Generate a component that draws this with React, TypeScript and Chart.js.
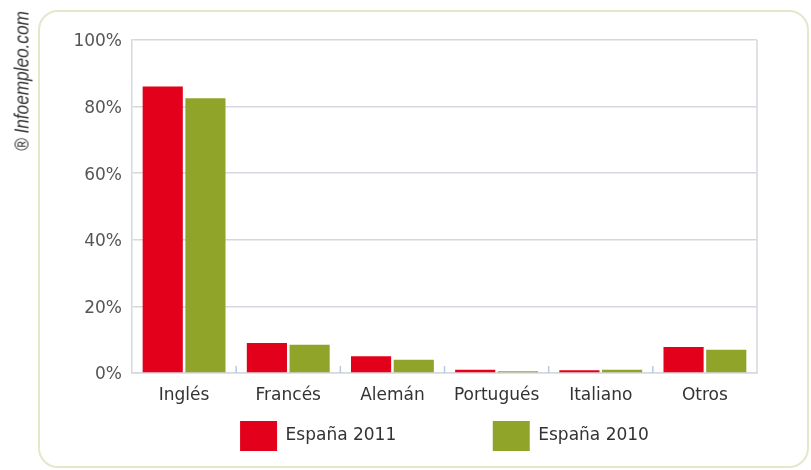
import React, { useEffect, useRef } from "react";
import { Chart, registerables } from "chart.js";

Chart.register(...registerables);

const categories = ["Inglés", "Francés", "Alemán", "Portugués", "Italiano", "Otros"];
const series2011 = [86, 9, 5, 1.0, 0.8, 7.8];
const series2010 = [82.5, 8.5, 4, 0.5, 1.0, 7];
const seriesNames = ["España 2011", "España 2010"];
const yTicks = [0, 20, 40, 60, 80, 100];

const RED = "#e2001a";
const GREEN = "#90a42a";
const GRID = "#d6d7df";
const TICKBLUE = "#b9c9e2";
const FONT = "'DejaVu Sans', 'Liberation Sans', sans-serif";

const extrasPlugin = {
  id: "extras",
  afterDatasetsDraw(chart: any) {
    const { ctx, chartArea, scales } = chart;
    const x = scales.x;
    ctx.save();
    ctx.strokeStyle = GRID;
    ctx.lineWidth = 1.5;
    ctx.beginPath();
    ctx.moveTo(chartArea.right, chartArea.top);
    ctx.lineTo(chartArea.right, chartArea.bottom);
    ctx.stroke();
    ctx.strokeStyle = TICKBLUE;
    ctx.lineWidth = 1.5;
    for (let i = 0; i < categories.length - 1; i++) {
      const bx = (x.getPixelForTick(i) + x.getPixelForTick(i + 1)) / 2;
      ctx.beginPath();
      ctx.moveTo(bx, chartArea.bottom);
      ctx.lineTo(bx, chartArea.bottom - 7);
      ctx.stroke();
    }
    ctx.restore();
  },
};

export default function App() {
  const ref = useRef<HTMLCanvasElement | null>(null);

  useEffect(() => {
    if (!ref.current) return;
    const chart = new Chart(ref.current, {
      type: "bar",
      data: {
        labels: categories,
        datasets: [
          { label: seriesNames[0], data: series2011, backgroundColor: RED, borderWidth: 0 },
          { label: seriesNames[1], data: series2010, backgroundColor: GREEN, borderWidth: 0 },
        ],
      },
      options: {
        animation: false,
        responsive: false,
        devicePixelRatio: 1,
        datasets: { bar: { categoryPercentage: 0.82, barPercentage: 0.94 } },
        layout: { padding: { left: 0, right: 54, top: 40, bottom: 9 } },
        plugins: {
          tooltip: { enabled: false },
          legend: {
            position: "bottom",
            fullSize: false,
            labels: {
              boxWidth: 37,
              boxHeight: 30,
              padding: 12,
              color: "#333",
              font: { family: FONT, size: 17 },
              generateLabels: (c: any) => {
                const items = Chart.defaults.plugins.legend.labels.generateLabels(c);
                const spacer = {
                  text: "     ",
                  fillStyle: "rgba(0,0,0,0)",
                  strokeStyle: "rgba(0,0,0,0)",
                  lineWidth: 0,
                  hidden: false,
                  datasetIndex: -1,
                };
                return [items[0], spacer, items[1]];
              },
            },
          },
        },
        scales: {
          x: {
            grid: { display: false, drawTicks: false },
            border: { display: true, color: GRID, width: 1.5 },
            ticks: { color: "#333", font: { family: FONT, size: 17 }, padding: 12 },
            afterFit: (s: any) => {
              s.height = 36;
            },
          },
          y: {
            min: 0,
            max: 100,
            afterBuildTicks: (s: any) => {
              s.ticks = yTicks.map((v) => ({ value: v }));
            },
            grid: { color: GRID, lineWidth: 1.5, drawTicks: false },
            border: { display: true, color: GRID, width: 1.5 },
            ticks: {
              color: "#555",
              font: { family: FONT, size: 17 },
              padding: 10,
              labelOffset: 2,
              callback: (v: any) => v + "%",
            },
            afterFit: (s: any) => {
              s.width = 132;
            },
          },
        },
      },
      plugins: [extrasPlugin],
    });
    return () => chart.destroy();
  }, []);

  return (
    <div style={{ position: "fixed", left: 0, top: 0, width: 811, height: 470, background: "#fff", overflow: "hidden" }}>
      <div
        style={{
          position: "absolute",
          left: 38,
          top: 10,
          width: 771,
          height: 458,
          border: "2px solid #e4e8c8",
          borderRadius: 20,
          boxSizing: "border-box",
        }}
      />
      <canvas ref={ref} width={811} height={470} style={{ position: "absolute", left: 0, top: 0 }} />
      <div
        style={{
          position: "absolute",
          left: 22,
          top: 81,
          transform: "translate(-50%, -50%) rotate(-90deg) scaleX(0.86)",
          whiteSpace: "nowrap",
          fontFamily: "'Liberation Sans', sans-serif",
          fontStyle: "italic",
          fontSize: 20,
          color: "#333",
        }}
      >
        ® Infoempleo.com
      </div>
    </div>
  );
}
